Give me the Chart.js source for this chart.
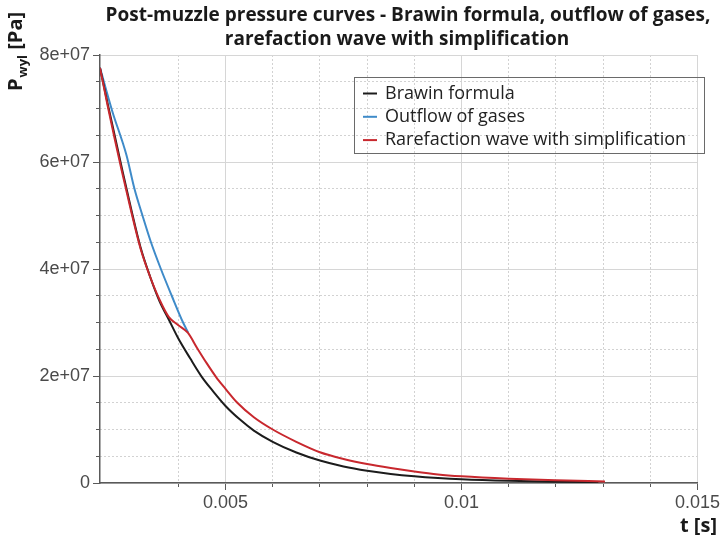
<!DOCTYPE html>
<html>
<head>
<meta charset="utf-8">
<script src="https://cdn.jsdelivr.net/npm/chart.js@4.4.1/dist/chart.umd.min.js"></script>
<style>
  html, body { margin: 0; padding: 0; background: #fff; }
</style>
</head>
<body>
<canvas id="chart" width="722" height="541"></canvas>
<script>
const titleLines = [
  'Post-muzzle pressure curves - Brawin formula, outflow of gases,',
  'rarefaction wave with simplification'
]
const xTitle = 't [s]'

const seriesNames = ['Brawin formula', 'Outflow of gases', 'Rarefaction wave with simplification']
const seriesColors = ['#1c1c1c', '#3f8bc9', '#c8282e']

// time [s] and pressure [Pa]
const tBrawin = [0.00234, 0.00250, 0.00265, 0.00280, 0.00300, 0.00320, 0.00340, 0.00360, 0.00380, 0.00400,
  0.00425, 0.00450, 0.00475, 0.00500, 0.00530, 0.00560, 0.00600, 0.00650, 0.00700, 0.00750,
  0.00800, 0.00850, 0.00900, 0.00950, 0.01000, 0.01100, 0.01200, 0.01290]
const pBrawin = [7.76e7, 7.10e7, 6.50e7, 5.90e7, 5.12e7, 4.40e7, 3.86e7, 3.40e7, 3.05e7, 2.70e7,
  2.33e7, 1.98e7, 1.70e7, 1.44e7, 1.19e7, 0.98e7, 0.77e7, 0.57e7, 0.42e7, 0.31e7,
  0.23e7, 0.17e7, 0.125e7, 0.092e7, 0.068e7, 0.040e7, 0.025e7, 0.017e7]

const tOutflow = [0.00234, 0.00260, 0.00290, 0.00307, 0.00324, 0.00342, 0.00363, 0.00386, 0.00410, 0.00421]
const pOutflow = [7.76e7, 6.95e7, 6.13e7, 5.50e7, 5.00e7, 4.50e7, 4.00e7, 3.50e7, 3.00e7, 2.81e7]

const tRarefaction = [0.00234, 0.00250, 0.00265, 0.00280, 0.00300, 0.00320, 0.00340, 0.00360, 0.00380, 0.00400,
  0.00420, 0.00440, 0.00460, 0.00480, 0.00500, 0.00525, 0.00560, 0.00600, 0.00650,
  0.00700, 0.00750, 0.00800, 0.00850, 0.00900, 0.00950, 0.01000, 0.01100, 0.01200, 0.01304]
const pRarefaction = [7.76e7, 7.06e7, 6.44e7, 5.84e7, 5.08e7, 4.38e7, 3.86e7, 3.43e7, 3.10e7, 2.95e7,
  2.81e7, 2.52e7, 2.24e7, 1.98e7, 1.76e7, 1.50e7, 1.23e7, 1.00e7, 0.77e7,
  0.575e7, 0.45e7, 0.355e7, 0.28e7, 0.215e7, 0.16e7, 0.125e7, 0.08e7, 0.05e7, 0.03e7]

const xMin = 0.00234
const xMax = 0.015
const xTicks = [0.005, 0.01, 0.015]
const xTickLabels = ['0.005', '0.01', '0.015']
const yTicks = [0, 2e7, 4e7, 6e7, 8e7]
const yTickLabels = ['0', '2e+07', '4e+07', '6e+07', '8e+07']

const toPoints = (ts, ps) => ts.map((t, i) => ({ x: t, y: ps[i] }))

const tickFont = { family: '"Liberation Sans", Arial, sans-serif', size: 18 }
const tickColor = '#4a4a4a'
const axisColor = '#5a5a5a'

// draws the title, the axis titles and the boxed legend inside the plot
const decorations = {
  id: 'decorations',
  afterDraw(chart) {
    const ctx = chart.ctx
    ctx.save()
    ctx.fillStyle = '#1a1a1a'
    ctx.textBaseline = 'alphabetic'

    ctx.font = 'bold 19px "Open Sans"'
    ctx.textAlign = 'center'
    ctx.fillText(titleLines[0], 408, 21)
    ctx.fillText(titleLines[1], 397, 45)

    ctx.font = 'bold 20px "Open Sans"'
    ctx.textAlign = 'right'
    ctx.fillText(xTitle, 717, 532)

    // y title, rotated, with subscript
    ctx.save()
    ctx.translate(22, 91)
    ctx.rotate(-Math.PI / 2)
    ctx.textAlign = 'left'
    ctx.font = 'bold 20px "Open Sans"'
    ctx.fillText('P', 0, 0)
    let w = ctx.measureText('P').width + 1
    ctx.font = 'bold 13px "Open Sans"'
    ctx.fillText('wyl', w, 5)
    w += ctx.measureText('wyl').width
    ctx.font = 'bold 20px "Open Sans"'
    ctx.fillText(' [Pa]', w, 0)
    ctx.restore()

    // legend
    const lx = 354, ly = 77, lw = 350, lh = 76
    ctx.strokeStyle = '#6a6a6a'
    ctx.lineWidth = 1
    ctx.strokeRect(lx + 0.5, ly + 0.5, lw, lh)
    ctx.font = '18px "Open Sans"'
    ctx.textAlign = 'left'
    ctx.textBaseline = 'middle'
    chart.data.datasets.forEach((ds, i) => {
      const cy = 93.5 + i * 23.3
      ctx.strokeStyle = ds.borderColor
      ctx.lineWidth = 2
      ctx.beginPath()
      ctx.moveTo(363, cy)
      ctx.lineTo(377, cy)
      ctx.stroke()
      ctx.fillStyle = '#222'
      ctx.fillText(ds.label, 385, cy)
    })
    ctx.restore()
  }
}

new Chart(document.getElementById('chart'), {
  type: 'line',
  data: {
    datasets: [
      { label: seriesNames[0], data: toPoints(tBrawin, pBrawin), borderColor: seriesColors[0], order: 1 },
      { label: seriesNames[1], data: toPoints(tOutflow, pOutflow), borderColor: seriesColors[1], order: 2 },
      { label: seriesNames[2], data: toPoints(tRarefaction, pRarefaction), borderColor: seriesColors[2], order: 0 }
    ]
  },
  options: {
    responsive: false,
    animation: false,
    devicePixelRatio: 1,
    layout: { padding: { top: 55, right: 20, left: 0, bottom: 0 } },
    elements: {
      point: { radius: 0 },
      line: { borderWidth: 2, cubicInterpolationMode: 'monotone', fill: false }
    },
    plugins: {
      legend: { display: false },
      title: { display: false },
      tooltip: { enabled: false }
    },
    scales: {
      xMinor: {
        type: 'linear', position: 'bottom', min: xMin, max: xMax, weight: 0,
        ticks: { display: false, stepSize: 0.001 },
        afterBuildTicks: s => { s.ticks = s.ticks.filter(t => t.value > xMin + 1e-6) },
        grid: { color: '#d2d2d2', tickLength: 4, tickColor: axisColor },
        border: { display: false, dash: [2, 2] },
        afterFit: s => { s.height = 0 }
      },
      x: {
        type: 'linear', position: 'bottom', min: xMin, max: xMax, weight: 1,
        afterBuildTicks: s => { s.ticks = xTicks.map(v => ({ value: v })) },
        ticks: {
          font: tickFont, color: tickColor, padding: 2, maxRotation: 0, autoSkip: false,
          callback: v => xTickLabels[xTicks.indexOf(v)]
        },
        grid: { color: '#d6d6d6', tickLength: 7, tickColor: axisColor },
        border: { color: axisColor, width: 1.5 },
        afterFit: s => { s.height = 58 }
      },
      yMinor: {
        type: 'linear', position: 'left', min: 0, max: 8e7, weight: 0,
        ticks: { display: false, stepSize: 5e6 },
        grid: { color: '#d2d2d2', tickLength: 4, tickColor: axisColor },
        border: { display: false, dash: [2, 2] },
        afterFit: s => { s.width = 0 }
      },
      y: {
        type: 'linear', position: 'left', min: 0, max: 8e7, weight: 1,
        afterBuildTicks: s => { s.ticks = yTicks.map(v => ({ value: v })) },
        ticks: {
          font: tickFont, color: tickColor, padding: 3, autoSkip: false,
          callback: v => yTickLabels[yTicks.indexOf(v)]
        },
        grid: { color: '#d6d6d6', tickLength: 7, tickColor: axisColor },
        border: { color: axisColor, width: 1.5 },
        afterFit: s => { s.width = 100 }
      }
    }
  },
  plugins: [decorations]
})
</script>
</body>
</html>
